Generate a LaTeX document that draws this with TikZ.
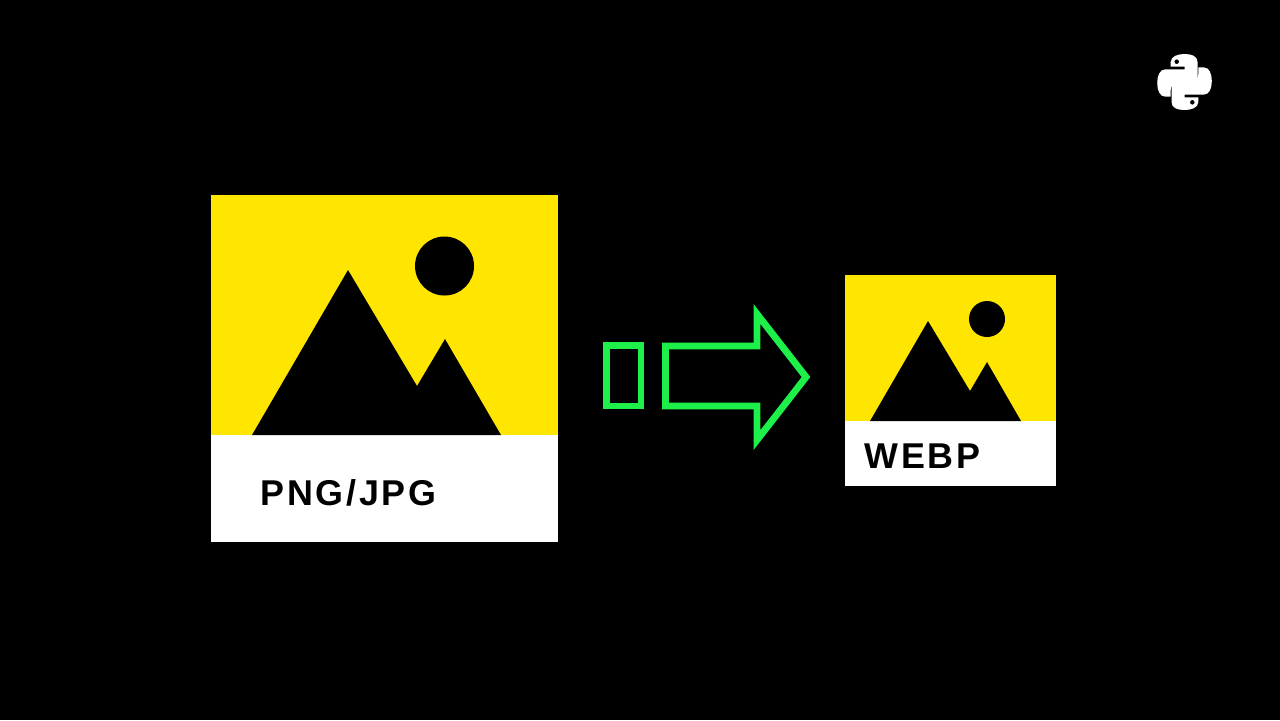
\documentclass[tikz,border=0pt]{standalone}
\usepackage{fontspec}
\setmainfont{Liberation Sans}[LetterSpace=7.5]
\usepackage{tikz}
\definecolor{cardyellow}{HTML}{FFE600}
\definecolor{arrowgreen}{HTML}{1EF04A}
\tikzset{
    cardtext/.style={anchor=base west, inner sep=0pt, text=black, font=\bfseries\fontsize{10.2}{12}\selectfont},
    outline/.style={draw=arrowgreen, line width=1.95pt, miter limit=10}
}

\begin{document}
\begin{tikzpicture}[x=0.01cm, y=-0.01cm]
    \fill[black] (0, 0) rectangle (1280, 720);
    \useasboundingbox (0, 0) rectangle (1280, 720);

    % big card
    \fill[white] (211, 435) rectangle (558, 542);
    \fill[cardyellow] (211, 195) rectangle (558, 435);
    \fill[black] (252, 435) -- (348, 270) -- (417, 386) -- (445, 339) -- (501, 435) -- cycle;
    \fill[black] (444.5, 266) circle (29.5);
    \node[cardtext] (pngjpg) at (260, 505.5) {PNG/JPG};

    % green shapes
    \draw[outline] (606.5, 345.5) rectangle (641, 406);
    \draw[outline] (665.5, 346) -- (757, 346) -- (757, 314) -- (806, 377) -- (757, 440) -- (757, 406) -- (665.5, 406) -- cycle;

    % small card
    \fill[white] (845, 421) rectangle (1056, 486);
    \fill[cardyellow] (845, 275) rectangle (1056, 421);
    \fill[black] (870, 421) -- (928, 321) -- (970, 391) -- (987, 362) -- (1021, 421) -- cycle;
    \fill[black] (987, 319) circle (18);
    \node[cardtext] (webp) at (864, 468) {WEBP};

    % python logo
    \foreach \turn in {0, 180} {
        \begin{scope}[shift={(1184.5, 82)}, rotate=\turn]
            \fill[white, even odd rule] (-13.8, -20) .. controls (-13.8, -26) and (-6, -28) .. (0, -28)
                .. controls (7, -28) and (13, -26) .. (13, -20) -- (13, -5)
                .. controls (13, -1) and (10, 1.3) .. (6, 1.3) -- (-7, 1.3)
                .. controls (-11, 1.3) and (-13.8, 4) .. (-13.8, 8) -- (-13.8, 14.7) -- (-19, 14.7)
                .. controls (-25, 14.7) and (-27.3, 8) .. (-27.3, 1)
                .. controls (-27.3, -6) and (-25, -12.7) .. (-19, -12.7) -- (0, -12.7) -- (0, -15.3) -- (-13.8, -15.3) -- cycle
                (-7.8, -20.3) circle (2.4);
        \end{scope}
    }
\end{tikzpicture}
\end{document}
